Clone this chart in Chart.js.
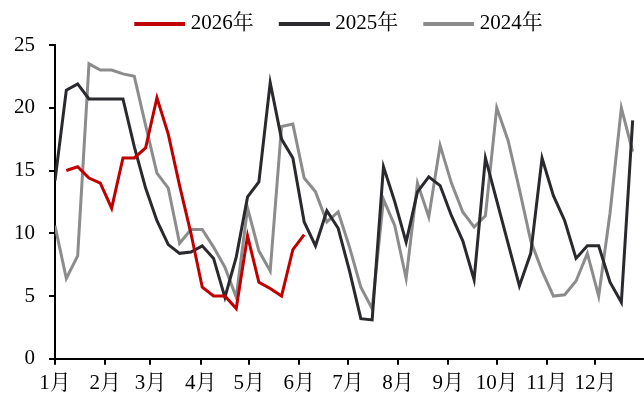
<!DOCTYPE html>
<html>
<head>
<meta charset="utf-8">
<script src="https://cdn.jsdelivr.net/npm/chart.js@4.4.1/dist/chart.umd.min.js"></script>
<style>
  html, body { margin: 0; padding: 0; background: #fff; overflow: hidden; }
  #wrap { width: 644px; height: 396px; position: relative; }
</style>
</head>
<body>
<div id="wrap"><canvas id="chart"></canvas></div>
<script>
// Month ticks on a day-of-year axis
const monthLabels = ['1月', '2月', '3月', '4月', '5月', '6月', '7月', '8月', '9月', '10月', '11月', '12月'];
const monthStartDays = [0, 31, 59, 90, 120, 151, 181, 212, 243, 273, 304, 334];
const yTicks = [0, 5, 10, 15, 20, 25];

// Weekly values (one per week, starting at week 0)
const values2026 = [null, 15.0, 15.3, 14.4, 14.0, 12.0, 16.0, 16.0, 16.8, 20.8, 17.9, 13.8, 10.0, 5.7, 5.0, 5.0, 4.0, 9.8, 6.1, 5.6, 5.0, 8.7, 9.9];
const values2025 = [14.2, 21.4, 21.9, 20.7, 20.7, 20.7, 20.7, 16.9, 13.6, 11.0, 9.1, 8.4, 8.5, 9.0, 8.0, 4.9, 8.1, 12.9, 14.1, 22.0,
                    17.5, 16.0, 10.9, 9.0, 11.8, 10.4, 7.0, 3.2, 3.1, 15.3, 12.5, 9.3, 13.3, 14.5, 13.8, 11.4, 9.4, 6.3, 16.0, 12.6,
                    9.2, 5.8, 8.4, 16.0, 13.0, 11.0, 8.0, 9.0, 9.0, 6.1, 4.5, 19.0];
const values2024 = [10.6, 6.4, 8.2, 23.5, 23.0, 23.0, 22.7, 22.5, 18.6, 14.8, 13.6, 9.2, 10.3, 10.3, 8.9, 7.3, 4.9, 12.0, 8.6, 7.0,
                    18.5, 18.7, 14.4, 13.3, 10.9, 11.7, 8.9, 5.7, 4.0, 12.7, 10.6, 6.4, 14.0, 11.3, 17.0, 14.0, 11.7, 10.5, 11.4, 20.0,
                    17.4, 13.5, 9.4, 7.0, 5.0, 5.1, 6.2, 8.4, 5.0, 11.6, 20.0, 16.5];

const seriesNames = ['2026年', '2025年', '2024年'];
const seriesColors = ['#C00000', '#2A2A2E', '#8C8C8C'];

const DAYS_PER_WEEK = 7;
const FONT_SIZE = 21;
const FONT_FAMILY = "'Liberation Serif', 'Times New Roman', 'Noto Serif CJK SC', 'Noto Sans CJK SC', serif";

// Legend swatch: a short line sitting at the right of its slot, close to the label
const SWATCH_SLOT = 51;
const SWATCH_LINE = 51;
const SWATCH_SHIFT = 5;
function legendSwatch(color) {
  const c = document.createElement('canvas');
  c.width = SWATCH_SLOT + 2 * SWATCH_SHIFT;
  c.height = 4;
  const g = c.getContext('2d');
  g.fillStyle = color;
  g.fillRect(c.width - SWATCH_LINE, 0, SWATCH_LINE, 4);
  return c;
}

function weeklyPoints(values) {
  return values.map((v, i) => ({ x: i * DAYS_PER_WEEK, y: v }));
}

const datasets = [values2026, values2025, values2024].map((vals, k) => ({
  label: seriesNames[k],
  data: weeklyPoints(vals),
  borderColor: seriesColors[k],
  backgroundColor: seriesColors[k],
  borderWidth: 3,
  pointRadius: 0,
  pointHoverRadius: 0,
  pointStyle: legendSwatch(seriesColors[k]),
  tension: 0,
  fill: false,
  spanGaps: false
}));

// Nudge the legend row sideways / vertically after layout
const LEGEND_DX = 14;
const LEGEND_DY = -1;
const legendNudge = {
  id: 'legendNudge',
  afterLayout(chart) {
    const lg = chart.legend;
    if (!lg) return;
    lg.top += LEGEND_DY; lg.bottom += LEGEND_DY;
    lg.left += LEGEND_DX; lg.right += LEGEND_DX;
  }
};

new Chart(document.getElementById('chart'), {
  type: 'line',
  data: { datasets },
  plugins: [legendNudge],
  options: {
    responsive: true,
    maintainAspectRatio: false,
    animation: false,
    devicePixelRatio: 1,
    layout: { padding: { top: -6, right: 0, bottom: -6, left: 0 } },
    plugins: {
      tooltip: { enabled: false },
      legend: {
        position: 'top',
        labels: {
          color: '#000',
          font: { family: FONT_FAMILY, size: FONT_SIZE },
          usePointStyle: true,
          pointStyleWidth: SWATCH_SLOT,
          boxHeight: 4,
          padding: 20
        }
      }
    },
    scales: {
      x: {
        type: 'linear',
        min: 0,
        max: 364,
        afterBuildTicks(scale) {
          scale.ticks = monthStartDays.map(d => ({ value: d }));
        },
        ticks: {
          autoSkip: false,
          maxRotation: 0,
          color: '#000',
          padding: 6,
          font: { family: FONT_FAMILY, size: FONT_SIZE },
          callback(value) {
            const idx = monthStartDays.indexOf(value);
            return idx >= 0 ? monthLabels[idx] : '';
          }
        },
        grid: { drawOnChartArea: false, drawTicks: true, tickLength: 6, color: '#000', lineWidth: 2 },
        border: { display: true, color: '#000', width: 2 }
      },
      y: {
        min: 0,
        max: 25,
        afterBuildTicks(scale) {
          scale.ticks = yTicks.map(v => ({ value: v }));
        },
        afterFit(scale) { scale.width = 55; },
        ticks: {
          color: '#000',
          padding: 14,
          font: { family: FONT_FAMILY, size: FONT_SIZE }
        },
        grid: { drawOnChartArea: false, drawTicks: true, tickLength: 6, color: '#000', lineWidth: 2 },
        border: { display: true, color: '#000', width: 2 }
      }
    }
  }
});
</script>
</body>
</html>
